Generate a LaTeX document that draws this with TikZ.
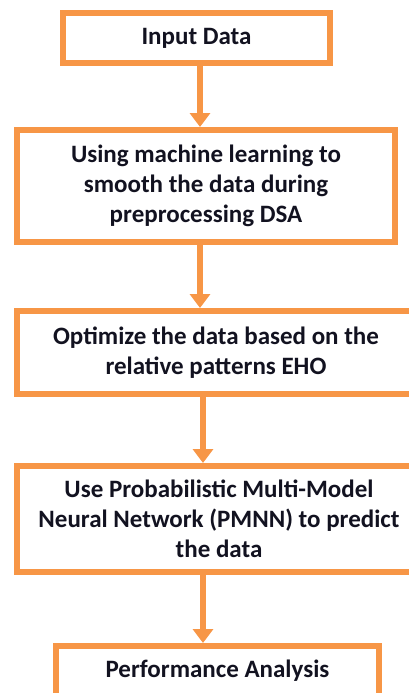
\documentclass[tikz,border=0pt]{standalone}
\usepackage{fontspec}
\setmainfont{Carlito}
\usetikzlibrary{arrows.meta}
\definecolor{boxorange}{RGB}{247,150,70}
\definecolor{inkdark}{RGB}{18,18,32}
\tikzset{
  flowbox/.style={draw=boxorange, line width=6pt, rectangle, inner sep=0pt,
    align=center, text=inkdark, font=\fontsize{25}{30}\selectfont\bfseries},
  flowarrow/.style={draw=boxorange, line width=6pt,
    -{Triangle[width=20pt,length=14pt]}},
}
\begin{document}
\begin{tikzpicture}[x=1pt, y=-1pt]
  \useasboundingbox (0,0) rectangle (409,693);
  \clip (0,0) rectangle (409,693);

  % process boxes, top to bottom
  \node[flowbox, minimum width=267pt, minimum height=50pt] (b1) at (196.5,38) {Input Data};
  \node[flowbox, minimum width=378pt, minimum height=112pt] (b2) at (206,186)
    {Using machine learning to\\smooth the data during\\preprocessing DSA};
  \node[flowbox, minimum width=398pt, minimum height=83pt] (b3) at (216,352.5)
    {Optimize the data based on the\\relative patterns EHO};
  \node[flowbox, minimum width=404pt, minimum height=106pt] (b4) at (219,519)
    {Use Probabilistic Multi-Model\\Neural Network (PMNN) to predict\\the data};
  \node[flowbox, minimum width=323pt, minimum height=56pt, text depth=10pt] (b5) at (217.5,674)
    {Performance Analysis};

  % arrow columns
  \coordinate (c1) at (200,0);
  \coordinate (c2) at (203,0);

  \draw[flowarrow] (c1 |- b1.south) -- (c1 |- b2.north);
  \draw[flowarrow] (c1 |- b2.south) -- (c1 |- b3.north);
  \draw[flowarrow] (c2 |- b3.south) -- (c2 |- b4.north);
  \draw[flowarrow] (c2 |- b4.south) -- (c2 |- b5.north);
\end{tikzpicture}
\end{document}
